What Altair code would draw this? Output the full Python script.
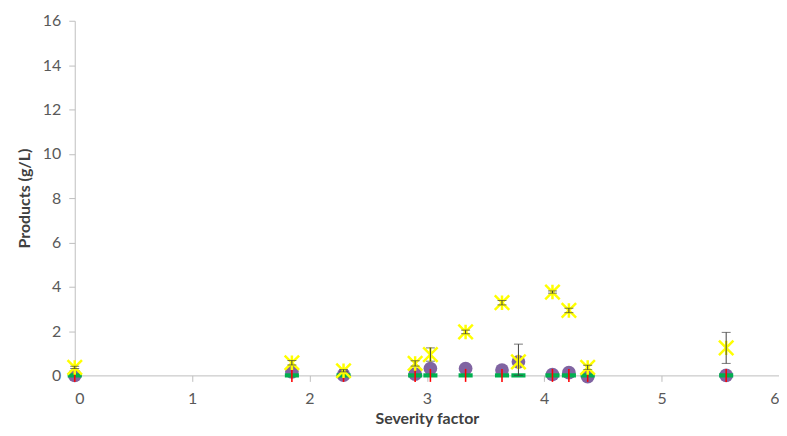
import altair as alt
import pandas as pd

severity = [0, 1.85, 2.29, 2.90, 3.03, 3.33, 3.64, 3.78, 4.07, 4.21, 4.37, 5.55]
yellow = [0.36, 0.57, 0.21, 0.54, 0.94, 1.96, 3.28, 0.61, 3.76, 2.93, 0.36, 1.24]
yellow_err = [0.05, 0.1, 0.05, 0.12, 0.3, 0.08, 0.1, 0.8, 0.05, 0.1, 0.1, 0.7]
purple = [0.0, 0.16, 0.01, 0.06, 0.31, 0.31, 0.24, 0.61, 0.04, 0.12, -0.06, 0.0]
red = [0.0, 0.0, 0.0, 0.0, 0.0, 0.0, 0.0, 0.61, 0.0, 0.0, 0.0, 0.0]
green = [0.0, 0.0, 0.0, 0.0, 0.0, 0.0, 0.0, 0.0, 0.0, 0.0, 0.0, 0.0]

df = pd.DataFrame({
    "severity": severity,
    "yellow": yellow,
    "purple": purple,
    "red": red,
    "green": green,
})
df["y_lo"] = [max(v - e, 0.0) for v, e in zip(yellow, yellow_err)]
df["y_hi"] = [v + e for v, e in zip(yellow, yellow_err)]

FONT = "Lato"

x_enc = alt.X(
    "severity:Q",
    scale=alt.Scale(domain=[0, 6], nice=False, zero=False),
    axis=alt.Axis(values=[0, 1, 2, 3, 4, 5, 6], title="Severity factor", grid=False,
                  labelPadding=9, titlePadding=4, format="d"),
)
y_scale = alt.Scale(domain=[0, 16], nice=False)
y_axis = alt.Axis(values=list(range(0, 17, 2)), title="Products (g/L)", grid=False,
                  labelPadding=8, titlePadding=10)

base = alt.Chart(df)

purple_l = base.mark_circle(size=190, color="#8064a2", opacity=1).encode(
    x=x_enc, y=alt.Y("purple:Q", scale=y_scale, axis=y_axis))
green_l = base.mark_point(shape="M -1 -0.3 L 1 -0.3 L 1 0.3 L -1 0.3 Z", filled=True,
                          size=200, color="#00b050", opacity=1).encode(
    x=x_enc, y=alt.Y("green:Q", scale=y_scale, axis=y_axis))
red_l = base.mark_point(shape="M -0.12 -1 L 0.12 -1 L 0.12 1 L -0.12 1 Z", filled=True,
                        size=170, color="#ff0000", opacity=1).encode(
    x=x_enc, y=alt.Y("red:Q", scale=y_scale, axis=y_axis))
yellow_l = base.mark_point(shape="M -1 -1 L 1 1 M -1 1 L 1 -1 M 0 -1 L 0 1", filled=False,
                           size=210, color="#ffff00", strokeWidth=2.5, opacity=1).encode(
    x=x_enc, y=alt.Y("yellow:Q", scale=y_scale, axis=y_axis))
err_l = base.mark_rule(color="#404040", strokeWidth=1).encode(
    x=x_enc, y=alt.Y("y_lo:Q", scale=y_scale, axis=y_axis), y2="y_hi:Q")
cap_lo = base.mark_tick(orient="horizontal", size=9, thickness=1, color="#404040").encode(
    x=x_enc, y=alt.Y("y_lo:Q", scale=y_scale, axis=y_axis))
cap_hi = base.mark_tick(orient="horizontal", size=9, thickness=1, color="#404040").encode(
    x=x_enc, y=alt.Y("y_hi:Q", scale=y_scale, axis=y_axis))

chart = alt.layer(purple_l, green_l, red_l, yellow_l, err_l, cap_lo, cap_hi).properties(
    width=707, height=356,
    autosize="none",
    padding={"left": 67, "top": 12, "right": 0, "bottom": 52},
).configure_view(stroke=None).configure_axis(
    domainColor="#bfbfbf", tickColor="#bfbfbf", tickSize=6,
    labelColor="#595959", labelFont=FONT, labelFontSize=16,
    titleColor="#404040", titleFont=FONT, titleFontSize=16, titleFontWeight="bold",
)

chart.save("out.html", embed_options={"renderer": "svg", "actions": False})
